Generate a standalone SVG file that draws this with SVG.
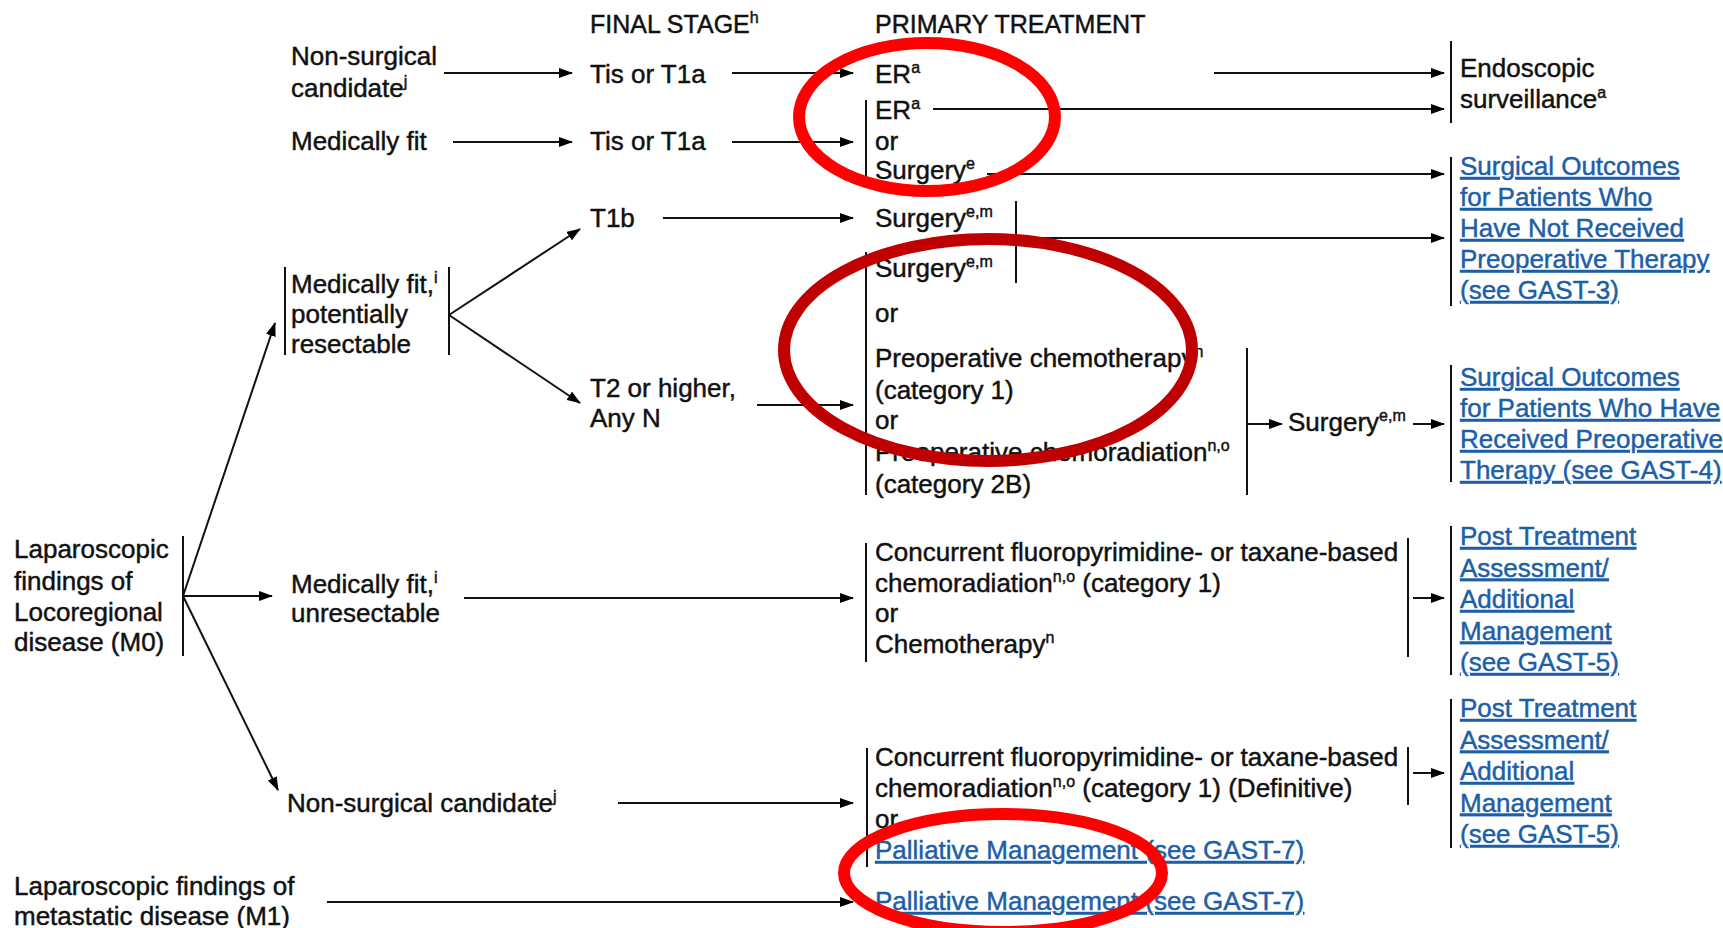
<svg xmlns="http://www.w3.org/2000/svg" width="1723" height="928" viewBox="0 0 1723 928">
<defs>
<marker id="ah" markerWidth="14" markerHeight="10" refX="13" refY="5" orient="auto" markerUnits="userSpaceOnUse"><path d="M0,0 L14,5 L0,10 z" fill="#000"/></marker>
<style>
text{font-family:"Liberation Sans",Arial,sans-serif;font-size:26px;fill:#111;stroke:#111;stroke-width:0.45}
.h{font-size:25px}
.s{font-size:16px}
.lk{fill:#1d5fa6;stroke:#1d5fa6;text-decoration:underline}
.br{stroke:#111;stroke-width:2;fill:none}
.cn line,.cn path{stroke:#111;stroke-width:2;fill:none}
.ar{marker-end:url(#ah)}
.ring{fill:none;stroke-width:12}
</style>
</defs>
<rect width="1723" height="928" fill="#fff"/>

<g id="headers">
<text class="h" x="590" y="33">FINAL STAGE<tspan class="s" dy="-10">h</tspan></text>
<text class="h" x="875" y="33">PRIMARY TREATMENT</text>
</g>

<g id="n-locoregional">
<text x="14" y="558">Laparoscopic</text>
<text x="14" y="590">findings of</text>
<text x="14" y="621">Locoregional</text>
<text x="14" y="651">disease (M0)</text>
<line class="br" x1="183" y1="536" x2="183" y2="656"/>
</g>
<g id="n-metastatic">
<text x="14" y="895">Laparoscopic findings of</text>
<text x="14" y="925">metastatic disease (M1)</text>
</g>

<g id="n-nonsurgical-1">
<text x="291" y="65">Non-surgical</text>
<text x="291" y="97">candidate<tspan class="s" dy="-10">j</tspan></text>
</g>
<g id="n-medfit-1">
<text x="291" y="150">Medically fit</text>
</g>
<g id="n-medfit-resectable">
<line class="br" x1="285" y1="267" x2="285" y2="355"/>
<text x="291" y="293">Medically fit,<tspan class="s" dy="-10">i</tspan></text>
<text x="291" y="323">potentially</text>
<text x="291" y="353">resectable</text>
<line class="br" x1="449" y1="267" x2="449" y2="355"/>
</g>
<g id="n-medfit-unresectable">
<text x="291" y="593">Medically fit,<tspan class="s" dy="-10">i</tspan></text>
<text x="291" y="622">unresectable</text>
</g>
<g id="n-nonsurgical-2">
<text x="287" y="812">Non-surgical candidate<tspan class="s" dy="-10">j</tspan></text>
</g>

<g id="s-tis-1"><text x="590" y="83">Tis or T1a</text></g>
<g id="s-tis-2"><text x="590" y="150">Tis or T1a</text></g>
<g id="s-t1b"><text x="590" y="227">T1b</text></g>
<g id="s-t2"><text x="590" y="397">T2 or higher,</text><text x="590" y="427">Any N</text></g>

<g id="t-er"><text x="875" y="83">ER<tspan class="s" dy="-10">a</tspan></text></g>
<g id="t-er-or-surgery">
<line class="br" x1="866" y1="100" x2="866" y2="188"/>
<text x="875" y="119">ER<tspan class="s" dy="-10">a</tspan></text>
<text x="875" y="150">or</text>
<text x="875" y="179">Surgery<tspan class="s" dy="-10">e</tspan></text>
</g>
<g id="t-surgery-t1b">
<text x="875" y="227">Surgery<tspan class="s" dy="-10">e,m</tspan></text>
<line class="br" x1="1016" y1="201" x2="1016" y2="283"/>
</g>
<g id="t-t2-options">
<line class="br" x1="866" y1="252" x2="866" y2="495"/>
<text x="875" y="277">Surgery<tspan class="s" dy="-10">e,m</tspan></text>
<text x="875" y="322">or</text>
<text x="875" y="367">Preoperative chemotherapy<tspan class="s" dy="-10">n</tspan></text>
<text x="875" y="399">(category 1)</text>
<text x="875" y="429">or</text>
<text x="875" y="461">Preoperative chemoradiation<tspan class="s" dy="-10">n,o</tspan></text>
<text x="875" y="493">(category 2B)</text>
<line class="br" x1="1247" y1="348" x2="1247" y2="495"/>
</g>
<g id="t-surgery-after">
<text x="1288" y="431">Surgery<tspan class="s" dy="-10">e,m</tspan></text>
</g>
<g id="t-unresectable">
<line class="br" x1="866" y1="543" x2="866" y2="662"/>
<text x="875" y="561">Concurrent fluoropyrimidine- or taxane-based</text>
<text x="875" y="591.5">chemoradiation<tspan class="s" dy="-10">n,o</tspan><tspan dy="10"> (category 1)</tspan></text>
<text x="875" y="622">or</text>
<text x="875" y="652.5">Chemotherapy<tspan class="s" dy="-10">n</tspan></text>
<line class="br" x1="1408" y1="538" x2="1408" y2="657"/>
</g>
<g id="t-nonsurgical">
<line class="br" x1="867" y1="748" x2="867" y2="867"/>
<text x="875" y="766">Concurrent fluoropyrimidine- or taxane-based</text>
<text x="875" y="797">chemoradiation<tspan class="s" dy="-10">n,o</tspan><tspan dy="10"> (category 1) (Definitive)</tspan></text>
<text x="875" y="828">or</text>
<text class="lk" x="875" y="859">Palliative Management (see GAST-7)</text>
<line class="br" x1="1408" y1="747" x2="1408" y2="805"/>
</g>
<g id="t-palliative">
<text class="lk" x="875" y="910">Palliative Management (see GAST-7)</text>
</g>

<g id="o-endoscopic">
<line class="br" x1="1451" y1="41" x2="1451" y2="123"/>
<text x="1460" y="77">Endoscopic</text>
<text x="1460" y="107.5">surveillance<tspan class="s" dy="-10">a</tspan></text>
</g>
<g id="o-surgical-1">
<line class="br" x1="1451" y1="157" x2="1451" y2="306"/>
<text class="lk" x="1460" y="175">Surgical Outcomes</text>
<text class="lk" x="1460" y="206">for Patients Who</text>
<text class="lk" x="1460" y="237">Have Not Received</text>
<text class="lk" x="1460" y="268">Preoperative Therapy</text>
<text class="lk" x="1460" y="299">(see GAST-3)</text>
</g>
<g id="o-surgical-2">
<line class="br" x1="1451" y1="365" x2="1451" y2="482"/>
<text class="lk" x="1460" y="386">Surgical Outcomes</text>
<text class="lk" x="1460" y="417">for Patients Who Have</text>
<text class="lk" x="1460" y="448">Received Preoperative</text>
<text class="lk" x="1460" y="479">Therapy (see GAST-4)</text>
</g>
<g id="o-post-1">
<line class="br" x1="1451" y1="526" x2="1451" y2="675"/>
<text class="lk" x="1460" y="545">Post Treatment</text>
<text class="lk" x="1460" y="576.5">Assessment/</text>
<text class="lk" x="1460" y="608">Additional</text>
<text class="lk" x="1460" y="639.5">Management</text>
<text class="lk" x="1460" y="671">(see GAST-5)</text>
</g>
<g id="o-post-2">
<line class="br" x1="1451" y1="699" x2="1451" y2="848"/>
<text class="lk" x="1460" y="717">Post Treatment</text>
<text class="lk" x="1460" y="748.5">Assessment/</text>
<text class="lk" x="1460" y="780">Additional</text>
<text class="lk" x="1460" y="811.5">Management</text>
<text class="lk" x="1460" y="843">(see GAST-5)</text>
</g>

<g id="connectors" class="cn">
<line class="ar" x1="444" y1="73" x2="572" y2="73"/>
<line class="ar" x1="732" y1="73" x2="853" y2="73"/>
<line class="ar" x1="1214" y1="73" x2="1444" y2="73"/>
<line class="ar" x1="453" y1="142" x2="572" y2="142"/>
<line class="ar" x1="732" y1="142" x2="853" y2="142"/>
<line class="ar" x1="933" y1="109" x2="1444" y2="109"/>
<line class="ar" x1="987" y1="174" x2="1444" y2="174"/>
<line class="ar" x1="663" y1="218" x2="853" y2="218"/>
<line class="ar" x1="1016" y1="238" x2="1444" y2="238"/>
<line class="ar" x1="449" y1="315" x2="580" y2="229"/>
<line class="ar" x1="449" y1="315" x2="580" y2="403"/>
<line class="ar" x1="757" y1="405" x2="853" y2="405"/>
<line class="ar" x1="1247" y1="424" x2="1282" y2="424"/>
<line class="ar" x1="1413" y1="424" x2="1444" y2="424"/>
<line class="ar" x1="183" y1="596" x2="275" y2="323"/>
<line class="ar" x1="183" y1="596" x2="272" y2="596"/>
<line class="ar" x1="183" y1="596" x2="278" y2="790"/>
<line class="ar" x1="464" y1="598" x2="853" y2="598"/>
<line class="ar" x1="1413" y1="598" x2="1444" y2="598"/>
<line class="ar" x1="618" y1="803" x2="853" y2="803"/>
<line class="ar" x1="1413" y1="773" x2="1444" y2="773"/>
<line class="ar" x1="327" y1="902" x2="853" y2="902"/>
</g>

<g id="annotations">
<ellipse class="ring" cx="927" cy="117" rx="128" ry="74" stroke="#ff0000"/>
<ellipse class="ring" cx="988" cy="350" rx="204" ry="111" stroke="#c00000"/>
<ellipse class="ring" cx="1003" cy="873" rx="159" ry="59" stroke="#ff0000"/>
</g>
</svg>
